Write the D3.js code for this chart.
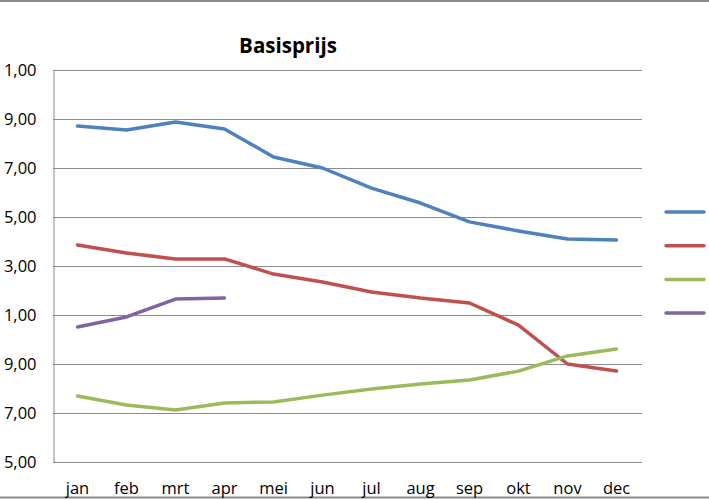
<!DOCTYPE html>
<html><head><meta charset="utf-8">
<script src="https://cdn.jsdelivr.net/npm/d3@7"></script>
<style>html,body{margin:0;padding:0;background:#fff;}svg{display:block;}</style>
</head><body>
<svg id="chart" width="709" height="500"></svg>
<script>
const title = "Basisprijs";
const months = ["jan","feb","mrt","apr","mei","jun","jul","aug","sep","okt","nov","dec"];
const yTicks = [15,17,19,21,23,25,27,29,31];
const yTickLabels = ["5,00","7,00","9,00","1,00","3,00","5,00","7,00","9,00","1,00"];
const seriesBlue   = [28.71,28.55,28.88,28.59,27.45,27.00,26.18,25.57,24.80,24.43,24.10,24.06];
const seriesRed    = [23.86,23.53,23.29,23.29,22.67,22.35,21.94,21.69,21.49,20.59,19.00,18.71];
const seriesGreen  = [17.69,17.33,17.12,17.41,17.45,17.73,17.98,18.18,18.35,18.71,19.33,19.61];
const seriesPurple = [20.51,20.92,21.65,21.69];
const colors = ["#4F81BD","#C0504D","#9BBB59","#8064A2"];
const series = [seriesBlue, seriesRed, seriesGreen, seriesPurple];

const svg = d3.select("#chart");
const pLeft = 53, pRight = 641, pTop = 70, pBottom = 462;
const x = d3.scaleBand().domain(months).range([pLeft, pRight]);
const y = d3.scaleLinear().domain([15, 31]).range([pBottom, pTop]);
const font = "'Open Sans', sans-serif";

// outer border lines
svg.append("line").attr("x1",0).attr("x2",709).attr("y1",1).attr("y2",1).attr("stroke","#8a8a8a").attr("stroke-width",2);
svg.append("line").attr("x1",0).attr("x2",709).attr("y1",497.5).attr("y2",497.5).attr("stroke","#8a8a8a").attr("stroke-width",2);

// gridlines
svg.append("g").selectAll("line").data(yTicks).join("line")
  .attr("x1", pLeft).attr("x2", pRight + 1)
  .attr("y1", d => Math.round(y(d)) + 0.5).attr("y2", d => Math.round(y(d)) + 0.5)
  .attr("stroke", "#8c8c8c").attr("stroke-width", 1);

// y axis
const yAxis = d3.axisLeft(y).tickValues(yTicks).tickSize(0).tickPadding(17)
  .tickFormat((d, i) => yTickLabels[i]);
const gy = svg.append("g").attr("transform", `translate(${pLeft + 0.5},0)`).call(yAxis);
gy.select(".domain").attr("stroke", "#8c8c8c");
gy.selectAll("text").attr("font-family", font).attr("font-size", 16.5).attr("fill", "#000");

// x axis
const xAxis = d3.axisBottom(x).tickSize(0).tickPadding(20);
const gx = svg.append("g").attr("transform", `translate(0,${pBottom + 0.5})`).call(xAxis);
gx.select(".domain").remove();
gx.selectAll("text").attr("font-family", font).attr("font-size", 16.5).attr("fill", "#000");

// lines
const line = d3.line().x((d, i) => x(months[i]) + x.bandwidth() / 2).y(d => y(d));
svg.append("g").selectAll("path").data(series).join("path")
  .attr("d", d => line(d)).attr("fill", "none")
  .attr("stroke", (d, i) => colors[i]).attr("stroke-width", 3.5)
  .attr("stroke-linejoin", "round").attr("stroke-linecap", "round");

// title
svg.append("text").attr("x", 288).attr("y", 53).attr("text-anchor", "middle")
  .attr("font-family", font).attr("font-weight", "bold").attr("font-size", 20.5).text(title);

// legend (labels fall outside the visible area)
svg.append("g").selectAll("line").data(colors).join("line")
  .attr("x1", 666).attr("x2", 704)
  .attr("y1", (d, i) => 212 + i * 33.7).attr("y2", (d, i) => 212 + i * 33.7)
  .attr("stroke", d => d).attr("stroke-width", 3.5).attr("stroke-linecap", "round");
</script>
</body></html>
